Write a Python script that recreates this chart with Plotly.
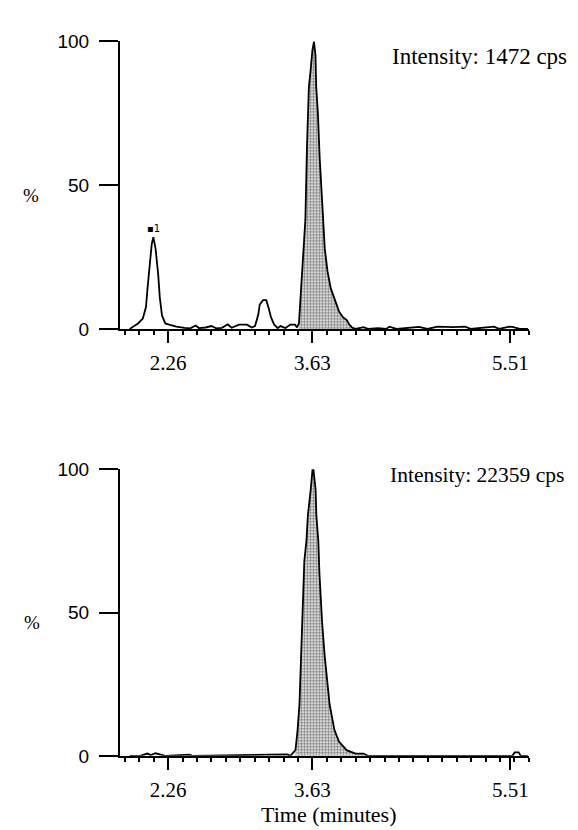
import plotly.graph_objects as go

# ---------------- data ----------------
# Top chromatogram: time (min) and relative intensity (%)
top_time = [1.895, 1.974, 2.020, 2.050, 2.065, 2.089, 2.105, 2.120, 2.141, 2.166,
            2.181, 2.202, 2.233, 2.278, 2.339, 2.415, 2.470, 2.522, 2.552, 2.616,
            2.671, 2.717, 2.771, 2.826, 2.863, 2.933, 3.009, 3.055, 3.085, 3.116,
            3.130, 3.161, 3.192, 3.216, 3.237, 3.267, 3.301, 3.328, 3.374, 3.420,
            3.465, 3.484, 3.502, 3.514, 3.527, 3.550, 3.563, 3.578, 3.587, 3.596,
            3.613, 3.630, 3.645, 3.659, 3.666, 3.682, 3.698, 3.715, 3.730, 3.747,
            3.773, 3.805, 3.844, 3.883, 3.922, 3.958, 3.981, 4.007, 4.039, 4.117,
            4.156, 4.253, 4.331, 4.360, 4.428, 4.643, 4.721, 4.818, 4.964, 5.081,
            5.130, 5.354, 5.402, 5.500, 5.539, 5.597, 5.675]
top_pct = [0.0, 1.9, 3.6, 7.6, 14.3, 24.5, 29.6, 31.9, 27.9, 18.9,
           11.0, 4.7, 1.9, 1.4, 0.8, 0.4, 0.2, 1.2, 0.3, 0.5,
           1.0, 0.2, 0.4, 1.6, 0.4, 1.5, 1.5, 0.5, 1.0, 5.0,
           8.5, 10.0, 10.0, 7.0, 4.0, 1.5, 0.3, 1.0, 0.3, 1.5,
           1.5, 0.5, 2.0, 9.0, 18.0, 31.0, 38.0, 63.0, 79.0, 84.0,
           90.0, 97.0, 100.0, 95.0, 84.0, 75.0, 60.0, 50.0, 37.0, 28.0,
           20.0, 14.0, 10.0, 6.0, 4.0, 3.0, 1.5, 0.5, 0.0, 0.6,
           0.0, 0.3, 0.0, 0.8, 0.0, 0.7, 0.0, 0.8, 0.6, 0.8,
           0.0, 0.8, 0.0, 0.8, 0.6, 0.0, 0.0]
top_fill_window = [3.50, 4.04]

# Bottom chromatogram
bot_time = [1.895, 1.994, 2.064, 2.096, 2.141, 2.196, 2.233, 2.461, 2.489, 3.392,
            3.420, 3.469, 3.489, 3.507, 3.523, 3.533, 3.553, 3.573, 3.587, 3.614,
            3.631, 3.639, 3.660, 3.667, 3.686, 3.696, 3.721, 3.746, 3.793, 3.839,
            3.882, 3.954, 4.039, 4.116, 4.156, 5.529, 5.549, 5.588, 5.607, 5.675]
bot_pct = [0.0, 0.0, 0.8, 0.3, 0.9, 0.5, 0.0, 0.4, 0.0, 0.5,
           0.0, 2.0, 9.0, 18.0, 35.0, 47.0, 68.0, 75.0, 84.0, 93.0,
           100.0, 100.0, 93.0, 84.0, 75.0, 64.0, 47.0, 35.0, 18.0, 9.0,
           5.0, 2.0, 0.8, 0.8, 0.0, 0.0, 1.2, 1.2, 0.0, 0.0]
bot_fill_window = [3.46, 4.16]

x_tick_vals = [2.26, 3.63, 5.51]
x_tick_text = ["2.26", "3.63", "5.51"]
y_tick_vals = [0, 50, 100]
y_tick_text = ["0", "50", "100"]
intensity_labels = ["Intensity: 1472 cps", "Intensity: 22359 cps"]
x_title = "Time (minutes)"
y_title = "%"
peak_label = "\u25aa1"

# ---------------- figure ----------------
W, H = 578, 830
X_RANGE = [1.8034, 5.6857]

def px(x):
    return x / W

def py(y):
    return 1 - y / H

fig = go.Figure()

def add_panel(t, p, window, xa, ya):
    ft = [a for a in t if window[0] <= a <= window[1]]
    fp = [b for a, b in zip(t, p) if window[0] <= a <= window[1]]
    fig.add_trace(go.Scatter(
        x=ft, y=fp, mode="lines", fill="tozeroy",
        line=dict(color="rgba(0,0,0,0)", width=0),
        fillcolor="white",
        fillpattern=dict(shape=".", size=3, solidity=0.6,
                         fgcolor="black", bgcolor="white"),
        xaxis=xa, yaxis=ya, showlegend=False, hoverinfo="skip"))
    fig.add_trace(go.Scatter(
        x=t, y=p, mode="lines", line=dict(color="black", width=1.8),
        xaxis=xa, yaxis=ya, showlegend=False))

add_panel(top_time, top_pct, top_fill_window, "x", "y")
add_panel(bot_time, bot_pct, bot_fill_window, "x2", "y2")

xax = dict(range=X_RANGE, domain=[px(112), px(521)], showline=True,
           linecolor="black", linewidth=2, showgrid=False, zeroline=False,
           tickmode="array", tickvals=x_tick_vals, ticktext=x_tick_text,
           ticks="outside", ticklen=12, tickwidth=2, tickcolor="black",
           ticklabelstandoff=2,
           minor=dict(ticks="outside", ticklen=4, tickwidth=1.5,
                      tickcolor="black", dtick=0.137, tick0=2.26,
                      showgrid=False),
           tickfont=dict(family="Liberation Serif", size=21, color="black"))
yax = dict(range=[0, 100], showline=True, linecolor="black", linewidth=2,
           showgrid=False, zeroline=False, tickmode="array",
           tickvals=y_tick_vals, ticktext=y_tick_text,
           ticks="outside", ticklen=19, tickwidth=2, tickcolor="black",
           ticklabelstandoff=6,
           tickfont=dict(family="Liberation Sans", size=19, color="black"))

fig.update_layout(
    width=W, height=H, margin=dict(l=0, r=0, t=0, b=0),
    paper_bgcolor="white", plot_bgcolor="white",
    font=dict(color="black"),
    xaxis=dict(xax, anchor="y"),
    yaxis=dict(yax, anchor="x", domain=[py(319), py(24)]),
    xaxis2=dict(xax, anchor="y2"),
    yaxis2=dict(yax, anchor="x2", domain=[py(757), py(463)]),
)

fig.add_annotation(text=intensity_labels[0], xref="paper", yref="paper",
                   x=px(382), y=py(40), xanchor="left", yanchor="middle",
                   showarrow=False,
                   font=dict(family="Liberation Serif", size=23, color="black"))
fig.add_annotation(text=intensity_labels[1], xref="paper", yref="paper",
                   x=px(380), y=py(469), xanchor="left", yanchor="middle",
                   showarrow=False,
                   font=dict(family="Liberation Serif", size=21.5, color="black"))
fig.add_annotation(text=y_title, xref="paper", yref="paper",
                   x=px(23), y=py(182), xanchor="center", yanchor="middle",
                   showarrow=False,
                   font=dict(family="Liberation Serif", size=19, color="black"))
fig.add_annotation(text=y_title, xref="paper", yref="paper",
                   x=px(24), y=py(620), xanchor="center", yanchor="middle",
                   showarrow=False,
                   font=dict(family="Liberation Serif", size=19, color="black"))
fig.add_annotation(text=x_title, xref="paper", yref="paper",
                   x=px(320), y=py(817), xanchor="center", yanchor="middle",
                   showarrow=False,
                   font=dict(family="Liberation Serif", size=22, color="black"))
fig.add_annotation(text=peak_label, xref="x", yref="y",
                   x=top_time[7], y=top_pct[7], xanchor="center", yanchor="bottom",
                   yshift=1, showarrow=False,
                   font=dict(family="DejaVu Sans", size=10, color="black"))

fig.write_html("out.html")
